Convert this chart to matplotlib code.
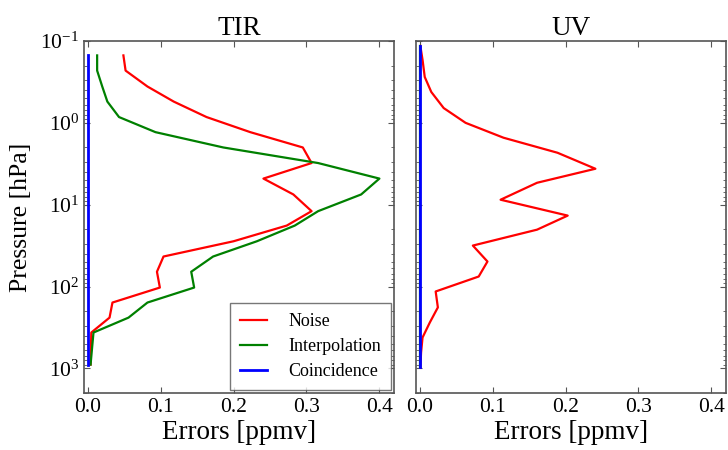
import numpy as np
import matplotlib

matplotlib.use("Agg")
import matplotlib.pyplot as plt

plt.rcParams["font.family"] = ["Liberation Serif", "DejaVu Serif"]
plt.rcParams["mathtext.fontset"] = "stix"
plt.rcParams["axes.unicode_minus"] = False

# ---- TIR profiles ----
tir_pressure = [0.15, 0.23, 0.36, 0.55, 0.85, 1.3, 2.0, 3.1, 4.8, 7.5, 12,
                18, 28, 43, 66, 103, 157, 240, 365, 570, 900]
tir_noise = [0.049, 0.052, 0.082, 0.118, 0.163, 0.223, 0.295, 0.307, 0.241,
             0.282, 0.307, 0.273, 0.200, 0.104, 0.095, 0.099, 0.034, 0.030,
             0.005, 0.0045, 0.004]
tir_interp = [0.013, 0.013, 0.020, 0.027, 0.043, 0.093, 0.186, 0.316, 0.400,
              0.375, 0.316, 0.284, 0.232, 0.172, 0.142, 0.146, 0.082, 0.056,
              0.008, 0.006, 0.004]
tir_coinc = [0.001] * len(tir_pressure)

# ---- UV profiles ----
uv_pressure = [0.115, 0.17, 0.275, 0.42, 0.66, 1.0, 1.52, 2.32, 3.64, 5.4,
               8.7, 13.6, 20.2, 31.6, 49.5, 75.5, 115, 180, 275, 420, 640, 970]
uv_noise = [0.001, 0.004, 0.007, 0.016, 0.033, 0.063, 0.115, 0.189, 0.241,
            0.161, 0.111, 0.203, 0.161, 0.073, 0.093, 0.081, 0.022, 0.025,
            0.014, 0.004, 0.002, 0.001]
uv_interp = [0.0] * len(uv_pressure)
uv_coinc = [0.0] * len(uv_pressure)

panels = [
    ("TIR", tir_pressure, tir_noise, tir_interp, tir_coinc),
    ("UV", uv_pressure, uv_noise, uv_interp, uv_coinc),
]

fig = plt.figure(figsize=(7.28, 4.5), dpi=100)
ax_l = fig.add_axes([0.1154, 0.1267, 0.4258, 0.7822])
ax_r = fig.add_axes([0.5714, 0.1267, 0.4258, 0.7822], sharey=ax_l)

for ax, (title, p, noise, interp, coinc) in zip([ax_l, ax_r], panels):
    ax.plot(noise, p, color="#ff0000", lw=1.6, label="Noise")
    ax.plot(interp, p, color="#008000", lw=1.6, label="Interpolation")
    ax.plot(coinc, p, color="#0000ff", lw=2.0, label="Coincidence")
    ax.set_yscale("log")
    ax.set_xlim(-0.005, 0.42)
    ax.set_xticks([0.0, 0.1, 0.2, 0.3, 0.4])
    ax.set_xticklabels(["0.0", "0.1", "0.2", "0.3", "0.4"])
    ax.set_title(title, fontsize=19.5, pad=4)
    ax.set_xlabel("Errors [ppmv]", fontsize=19.5, labelpad=2)
    ax.tick_params(which="both", direction="in", top=True, right=True,
                   labelsize=15.5, color="#555555")
    ax.tick_params(which="major", length=4, width=0.8)
    ax.tick_params(which="minor", length=2, width=0.6)
    for s in ax.spines.values():
        s.set_color("#555555")
        s.set_linewidth(1.2)

ax_l.set_ylim(2000, 0.1)
ax_l.set_yticks([0.1, 1, 10, 100, 1000])
ax_l.set_ylabel("Pressure [hPa]", fontsize=18.5, labelpad=6)
ax_r.tick_params(labelleft=False)

leg = ax_l.legend(loc="lower right", fontsize=13, frameon=True, fancybox=False,
                  borderaxespad=0.15, handlelength=1.5, handletextpad=1.2,
                  borderpad=0.55, labelspacing=0.45)
leg.get_frame().set_edgecolor("#555555")
leg.get_frame().set_linewidth(1.0)

fig.savefig("out.png", dpi=100, facecolor="white")
